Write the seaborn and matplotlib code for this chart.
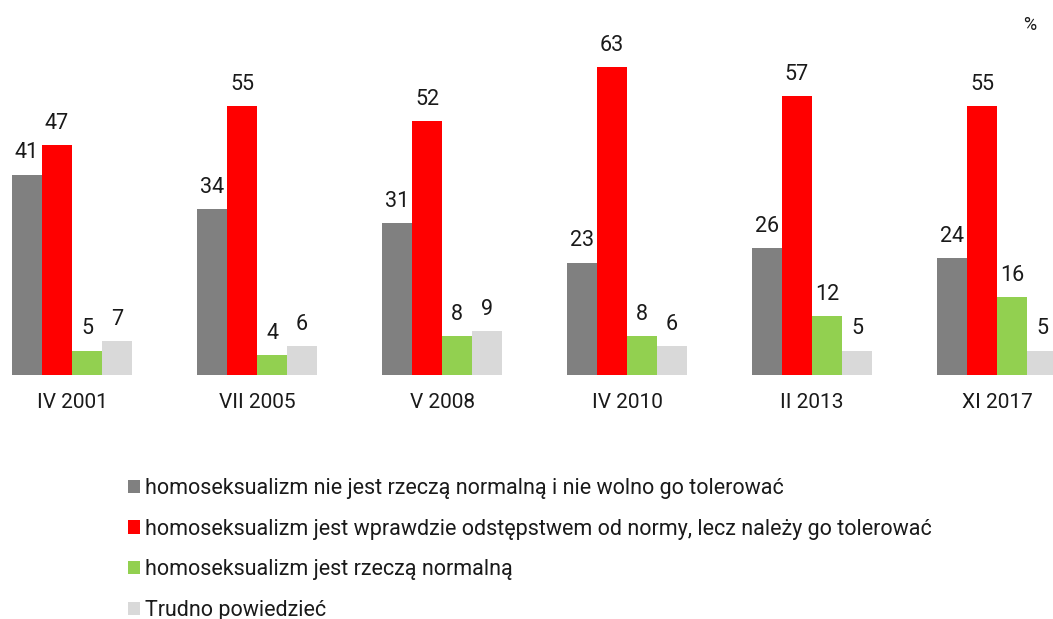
import seaborn as sns
import matplotlib.pyplot as plt
import pandas as pd

okresy = ["IV 2001", "VII 2005", "V 2008", "IV 2010", "II 2013", "XI 2017"]
odpowiedzi = [
    "homoseksualizm nie jest rzeczą normalną i nie wolno go tolerować",
    "homoseksualizm jest wprawdzie odstępstwem od normy, lecz należy go tolerować",
    "homoseksualizm jest rzeczą normalną",
    "Trudno powiedzieć",
]
nie_tolerowac = [41, 34, 31, 23, 26, 24]
tolerowac = [47, 55, 52, 63, 57, 55]
normalny = [5, 4, 8, 8, 12, 16]
trudno = [7, 6, 9, 6, 5, 5]
kolory = ["#808080", "#FF0000", "#92D050", "#D9D9D9"]

rows = []
for odp, vals in zip(odpowiedzi, [nie_tolerowac, tolerowac, normalny, trudno]):
    for okres, v in zip(okresy, vals):
        rows.append({"okres": okres, "odp": odp, "proc": v})
df = pd.DataFrame(rows)

sns.set_style("white")
plt.rcParams["font.family"] = ["Roboto", "DejaVu Sans"]

fig = plt.figure(figsize=(10.53, 6.19), dpi=100)
ax = fig.add_axes([0, 1 - 375 / 619, 1, 375 / 619])
sns.barplot(data=df, x="okres", y="proc", hue="odp", palette=kolory,
            width=0.65, saturation=1, gap=0, linewidth=0, ax=ax, legend=True)

for cont in ax.containers:
    ax.bar_label(cont, padding=8, fontsize=15.5, color="#1a1a1a")

ax.set_xlim(-72 / 185, (1053 - 72) / 185)
ax.set_ylim(0, 375 / 4.89)
ax.set_xlabel("")
ax.set_ylabel("")
ax.set_yticks([])
ax.tick_params(axis="x", length=0, pad=13, labelsize=15, labelcolor="#1a1a1a")
for s in ax.spines.values():
    s.set_visible(False)

ax.legend(loc="upper left", bbox_to_anchor=(128 / 1053, 1 - 478 / 619),
          bbox_transform=fig.transFigure, frameon=False, fontsize=15.5,
          handlelength=0.56, handleheight=0.56, handletextpad=0.25,
          labelspacing=0.91, borderaxespad=0, borderpad=0, labelcolor="#1a1a1a")

fig.text(1030 / 1053, 1 - 25 / 619, "%", ha="center", va="center",
         fontsize=13, color="#1a1a1a")

fig.savefig("out.png", dpi=100)
